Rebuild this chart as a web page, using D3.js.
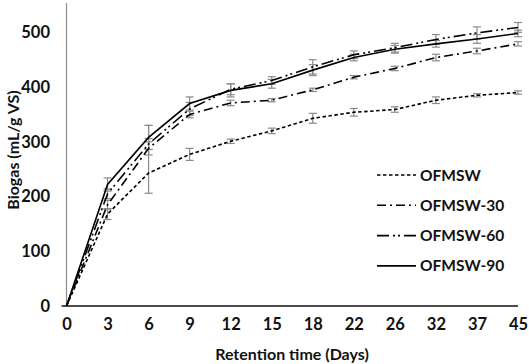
<!DOCTYPE html>
<html lang="en">
<head>
<meta charset="UTF-8">
<title>Biogas yield</title>
<script src="https://d3js.org/d3.v7.min.js"></script>
<style>
  body { margin: 0; background: #fff; }
  svg text { font-family: Lato, "Open Sans", sans-serif; font-weight: bold; fill: #111; }
</style>
</head>
<body>
<div id="chart"></div>
<script>
// retention days (categorical axis)
const days = ["0", "3", "6", "9", "12", "15", "18", "22", "26", "32", "37", "45"];
const yTicks = [0, 100, 200, 300, 400, 500];

// cumulative biogas, mL/g VS
const ofmsw   = [0, 168, 243, 277, 301, 320, 343, 354, 359, 376, 385, 390];
const ofmsw30 = [0, 185, 288, 350, 371, 376, 395, 418, 434, 454, 466, 479];
const ofmsw60 = [0, 205, 296, 360, 396, 412, 437, 459, 472, 487, 499, 509];
const ofmsw90 = [0, 222, 308, 370, 394, 406, 431, 454, 469, 479, 488, 498];

// error bars (OFMSW's day-6 bar is lopsided in the source)
const errOfmswUp   = [0, 10, 87, 11, 4, 5, 9, 7, 5, 6, 3, 3];
const errOfmswDown = [0, 10, 37, 11, 4, 5, 9, 7, 5, 6, 3, 3];
const errOfmsw30 = [0, 8, 12, 6, 5, 3, 3, 3, 4, 6, 5, 4];
const errOfmsw60 = [0, 9, 10, 12, 10, 7, 13, 7, 8, 9, 11, 9];
const errOfmsw90 = [0, 12, 22, 12, 12, 8, 10, 6, 7, 6, 8, 6];

const series = [
  { name: "OFMSW", values: ofmsw, up: errOfmswUp, down: errOfmswDown, dash: "3.5,2.5" },
  { name: "OFMSW-30", values: ofmsw30, up: errOfmsw30, down: errOfmsw30, dash: "9,4,2,4" },
  { name: "OFMSW-60", values: ofmsw60, up: errOfmsw60, down: errOfmsw60, dash: "12,4,2,3,2,4" },
  { name: "OFMSW-90", values: ofmsw90, up: errOfmsw90, down: errOfmsw90, dash: null }
];

const W = 529, H = 364;
const margin = { top: 5, right: 11, bottom: 58, left: 66.5 };

const svg = d3.select("#chart").append("svg")
  .attr("width", W).attr("height", H);

const x = d3.scalePoint().domain(days).range([margin.left, W - margin.right]).padding(0);
const y = d3.scaleLinear().domain([0, 550]).range([H - margin.bottom, margin.top]);

// y axis line (grey)
svg.append("line")
  .attr("x1", margin.left).attr("x2", margin.left)
  .attr("y1", margin.top - 2).attr("y2", y(0))
  .attr("stroke", "#8c8c8c").attr("stroke-width", 1.2);

// y tick labels
svg.append("g").selectAll("text")
  .data(yTicks).join("text")
  .attr("x", 50).attr("y", d => y(d))
  .attr("dy", "0.36em")
  .attr("text-anchor", "end")
  .style("font-size", "16.5px")
  .text(d => d);

// x axis
const xAxis = svg.append("g")
  .attr("transform", `translate(0,${y(0)})`)
  .call(d3.axisBottom(x).tickSize(0).tickPadding(12));
xAxis.select(".domain").attr("d", `M${margin.left - 5},0H${W - margin.right}`)
  .attr("stroke", "#111").attr("stroke-width", 1.3);
xAxis.selectAll("text")
  .style("font-size", "16.5px")
  .style("font-family", "Lato, sans-serif")
  .style("font-weight", "bold")
  .attr("fill", "#111");

// axis titles
svg.append("text")
  .attr("x", 292).attr("y", 360)
  .attr("text-anchor", "middle")
  .style("font-size", "16px")
  .text("Retention time (Days)");

svg.append("text")
  .attr("transform", "translate(19,150) rotate(-90)")
  .attr("text-anchor", "middle")
  .style("font-size", "16px")
  .text("Biogas (mL/g VS)");

// error bars
const eb = svg.append("g").attr("stroke", "#8a8a8a").attr("stroke-width", 1.2);
series.forEach(s => {
  s.values.forEach((v, i) => {
    if (!s.up[i]) return;
    const cx = x(days[i]);
    const lo = y(v - s.down[i]), hi = y(v + s.up[i]);
    eb.append("line").attr("x1", cx).attr("x2", cx).attr("y1", lo).attr("y2", hi);
    eb.append("line").attr("x1", cx - 4).attr("x2", cx + 4).attr("y1", lo).attr("y2", lo);
    eb.append("line").attr("x1", cx - 4).attr("x2", cx + 4).attr("y1", hi).attr("y2", hi);
  });
});

// lines
const line = d3.line().x((d, i) => x(days[i])).y(d => y(d));
svg.append("g").selectAll("path")
  .data(series).join("path")
  .attr("d", d => line(d.values))
  .attr("fill", "none")
  .attr("stroke", "#000")
  .attr("stroke-width", 1.6)
  .attr("stroke-dasharray", d => d.dash);

// legend
const legend = svg.append("g");
series.forEach((s, i) => {
  const ly = 175 + i * 30.3;
  legend.append("line")
    .attr("x1", 377).attr("x2", 416).attr("y1", ly).attr("y2", ly)
    .attr("stroke", "#000").attr("stroke-width", 1.6)
    .attr("stroke-dasharray", s.dash);
  legend.append("text")
    .attr("x", 420).attr("y", ly).attr("dy", "0.36em")
    .style("font-size", "15.5px")
    .text(s.name);
});
</script>
</body>
</html>
